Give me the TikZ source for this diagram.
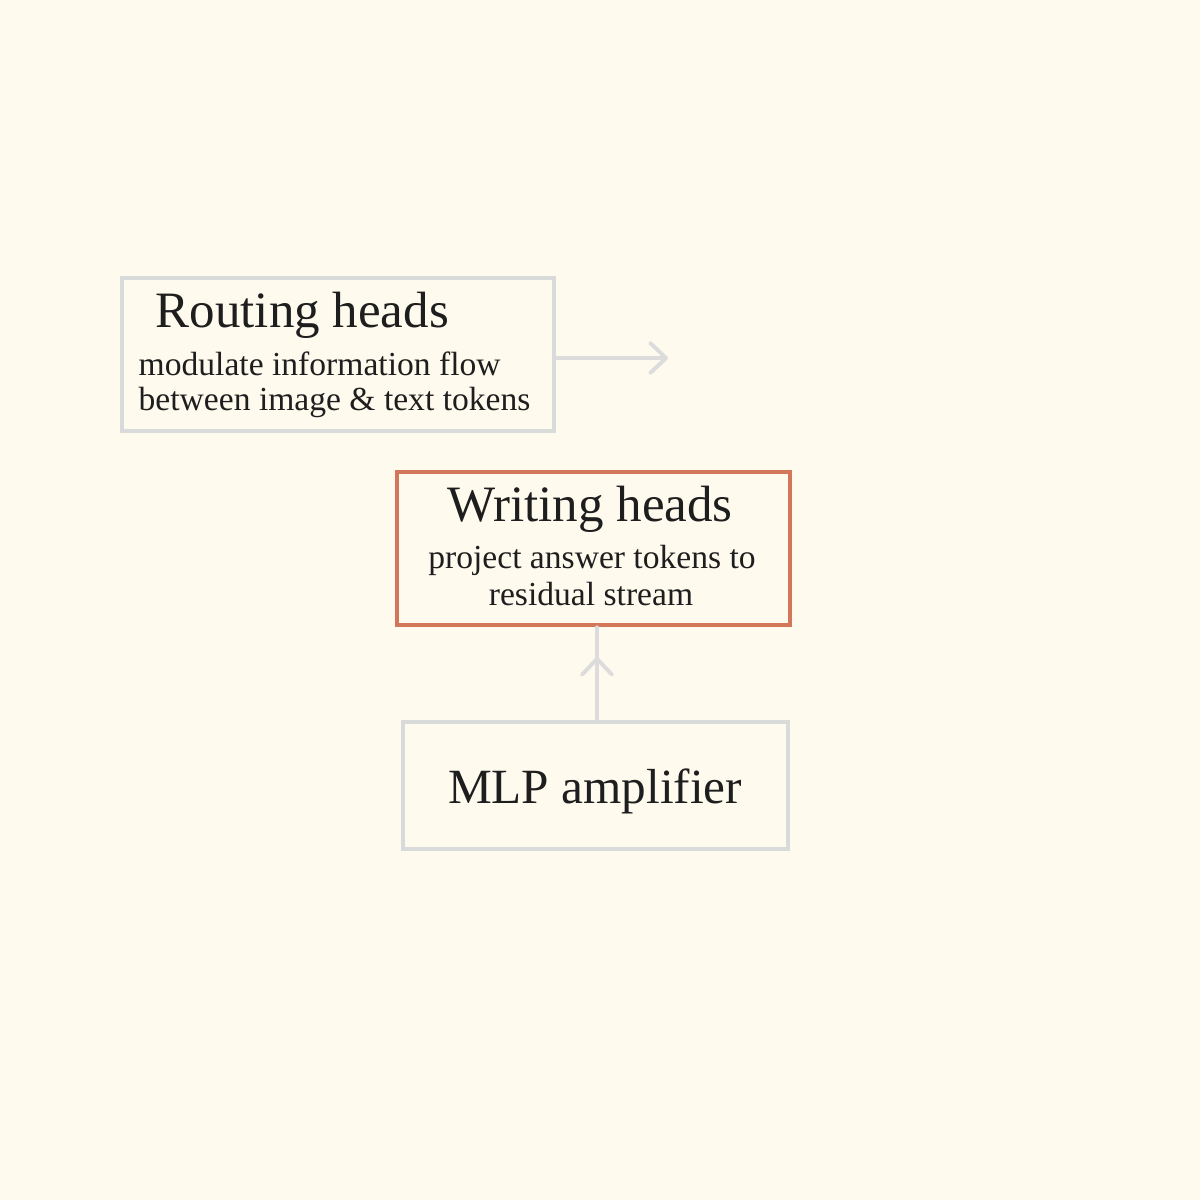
\documentclass[tikz,border=0pt]{standalone}
\usepackage{fontspec}
\setmainfont{Liberation Serif}
\usetikzlibrary{arrows.meta,decorations.markings}
\definecolor{bg}{HTML}{FEFAEE}
\definecolor{boxgray}{HTML}{D9DADA}
\definecolor{arrowgray}{HTML}{DCDCDC}
\definecolor{accent}{HTML}{D3775A}
\definecolor{ink}{HTML}{1E1E1E}
\tikzset{
  panel/.style={draw=boxgray, line width=1.3pt, fill=bg, rectangle, inner sep=0pt},
  hotpanel/.style={panel, draw=accent},
  title/.style={text=ink, font=\fontsize{14.5pt}{16pt}\selectfont, inner sep=0pt},
  sub/.style={text=ink, font=\fontsize{9.55pt}{10.5pt}\selectfont, inner sep=0pt},
  link/.style={draw=arrowgray, line width=1.1pt, line cap=round},
  barb/.tip={Straight Barb[length=4.5pt, width=8.5pt, line width=1.1pt, line cap=round, line join=round]}
}
\begin{document}
\begin{tikzpicture}[x=0.01cm, y=-0.01cm]
\fill[bg] (0,0) rectangle (1200,1200);
\useasboundingbox (0,0) rectangle (1200,1200);
% boxes
\node[panel, minimum width=4.32cm, minimum height=1.53cm] (route) at (338,354.5) {};
\node[hotpanel, minimum width=3.93cm, minimum height=1.53cm] (write) at (593.5,548.5) {};
\node[panel, minimum width=3.85cm, minimum height=1.27cm] (mlp) at (595.5,785.5) {};
% texts
\node[title, anchor=base west] (routeT) at (155,327) {Routing heads};
\node[sub, anchor=base west] (routeS1) at (138,375) {modulate information flow};
\node[sub, anchor=base west] (routeS2) at (138,410) {between image \& text tokens};
\node[title, anchor=base] (writeT) at (590,521) {Writing heads};
\node[sub, anchor=base] (writeS1) at (592,568) {project answer tokens to};
\node[sub, anchor=base] (writeS2) at (591,605) {residual stream};
\node[title, anchor=base, font=\fontsize{14pt}{16pt}\selectfont] (mlpT) at (595,803) {MLP amplifier};
% connectors
\coordinate (rend) at (668,358);
\coordinate (vx) at (597,0);
\draw[link, -barb] (route.east |- rend) -- (rend);
\draw[link, postaction={decorate}, decoration={markings, mark=at position 0.68 with {\arrow{barb}}}] (mlp.north -| vx) -- (write.south -| vx);
\end{tikzpicture}
\end{document}
